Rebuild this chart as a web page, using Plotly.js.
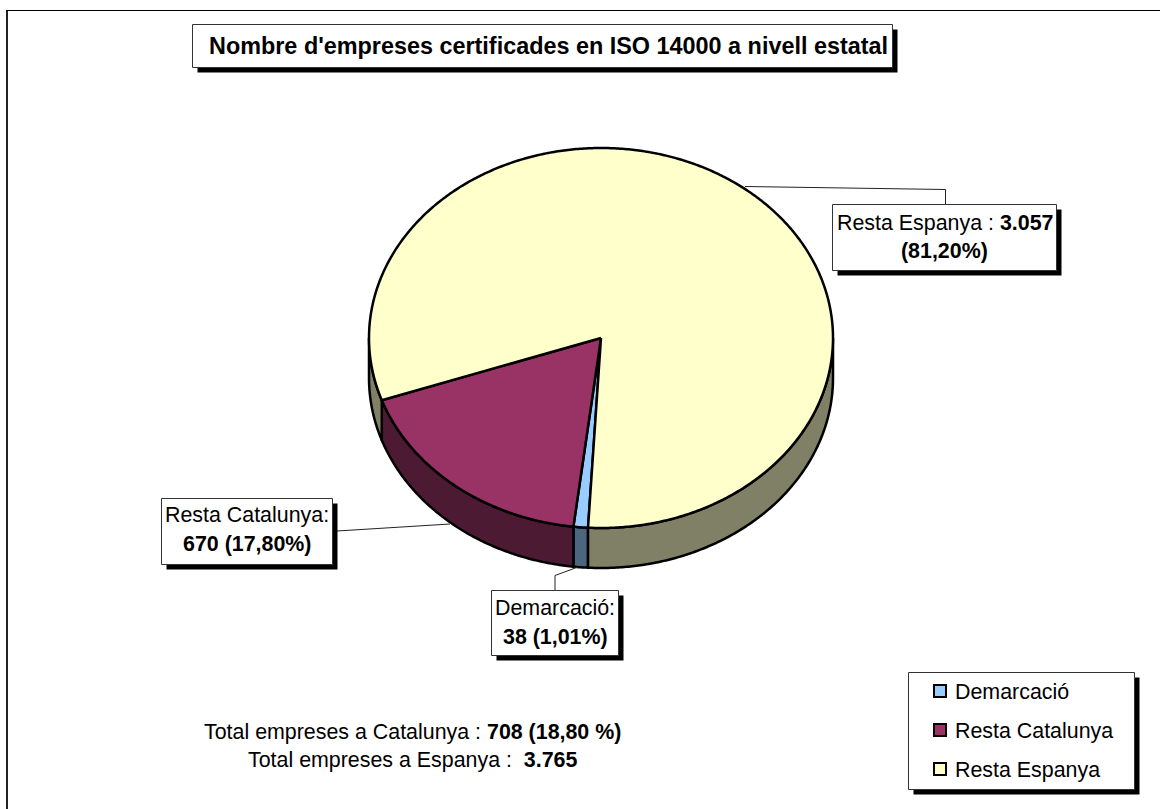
<!DOCTYPE html>
<html>
<head>
<meta charset="utf-8">
<script src="https://cdn.plot.ly/plotly-3.0.1.min.js"></script>
<style>html,body{margin:0;padding:0;background:#fff;overflow:hidden}#chart{width:1160px;height:809px}
/* the swatch-to-label gap in the reference is tighter than Plotly's default */
.legendtext,.legend2text,.legend3text{transform:translateX(-5px)}</style>
</head>
<body>
<div id="chart"></div>
<script>
const categories = ["Demarcació", "Resta Catalunya", "Resta Espanya"];
const values = [38, 670, 3057];
const topColors = ["#99CCFF", "#993366", "#FFFFCC"];
const sideColors = ["#4D6680", "#4D1A33", "#808066"];
const titleText = "Nombre d'empreses certificades en ISO 14000 a nivell estatal";
const noteLines = ["Total empreses a Catalunya : <b>708 (18,80 %)</b>", "Total empreses a Espanya : \u00A0<b>3.765</b>"];
const calloutEspanya = ["Resta Espanya : <b>3.057</b>", "<b>(81,20%)</b>"];
const calloutCatalunya = ["Resta Catalunya:", "<b>670 (17,80%)</b>"];
const calloutDemarcacio = ["Demarcació:", "<b>38 (1,01%)</b>"];

const FONT = "Liberation Sans, Arial, sans-serif";
const FS = 21.4, TITLE_FS = 23.4;
const cx = 601, cy = 338, rx = 232, ry = 190, depth = 40, startDeg = 93.2;
const total = values.reduce((a, b) => a + b, 0);
const pt = (deg, dy) => [cx + rx * Math.cos(deg * Math.PI / 180), cy + ry * Math.sin(deg * Math.PI / 180) + dy];
function arc(a, b, dy) {
  const out = [], n = Math.max(2, Math.ceil(Math.abs(b - a) * 2));
  for (let i = 0; i <= n; i++) out.push(pt(a + (b - a) * i / n, dy));
  return out;
}
const traces = [];
function poly(points, fill) {
  traces.push({
    type: "scatter", mode: "lines", x: points.map(p => p[0]), y: points.map(p => p[1]),
    fill: "toself", fillcolor: fill, line: {color: "#000", width: 2.5, simplify: false},
    hoverinfo: "skip", showlegend: false
  });
}
// slice angular extents, from the values
let cur = startDeg;
const spans = values.map(v => { const s = [cur, cur + v / total * 360]; cur = s[1]; return s; });
// rim (only the front half of the ellipse is visible)
spans.forEach((s, i) => {
  [[0, 180], [360, 540]].forEach(win => {
    const a = Math.max(s[0], win[0]), b = Math.min(s[1], win[1]);
    if (b > a) poly(arc(a, b, 0).concat(arc(b, a, depth)).concat([pt(a, 0)]), sideColors[i]);
  });
});
// top faces
spans.forEach((s, i) => {
  poly([[cx, cy]].concat(arc(s[0], s[1], 0)).concat([[cx, cy]]), topColors[i]);
});
// legend entries
const legendNames = ["legend", "legend2", "legend3"];
categories.forEach((c, i) => {
  traces.push({
    type: "scatter", mode: "markers", x: [null], y: [null], name: c, legend: legendNames[i],
    marker: {symbol: "square", size: 12, color: topColors[i], line: {color: "#000", width: 2}},
    hoverinfo: "skip", showlegend: true
  });
});
function box(x0, y0, x1, y1) {
  return [
    {type: "rect", x0: x0 + 5, y0: y0 + 5, x1: x1 + 5, y1: y1 + 5, fillcolor: "#000", line: {width: 0}},
    {type: "rect", x0, y0, x1, y1, fillcolor: "#fff", line: {color: "#333", width: 1}}
  ];
}
function leader(pts) {
  return {type: "path", path: pts.map((p, i) => (i ? "L" : "M") + p[0] + "," + p[1]).join(" "), line: {color: "#222", width: 1}};
}
const shapes = [
  {type: "line", x0: 7, x1: 7, y0: 10, y1: 809, line: {color: "#222", width: 2}},
  {type: "line", x0: 6, x1: 1160, y0: 10.5, y1: 10.5, line: {color: "#000", width: 1}},
  leader([[745, 186.5], [945.5, 189.5], [945.5, 204]]),
  leader([[337, 531], [450, 524]]),
  leader([[578, 567], [555, 575.5], [555, 590]]),
  ...box(192.5, 24.5, 892.5, 67.5),
  ...box(832.5, 204.5, 1056.5, 270.5),
  ...box(161.5, 498.5, 332.5, 564.5),
  ...box(491.5, 590.5, 618.5, 655.5),
  ...box(908.5, 672.5, 1134.5, 789.5)
];
function txt(text, x, y, size) {
  return {text, x, y, xref: "x", yref: "y", showarrow: false, xanchor: "center", yanchor: "middle",
    font: {family: FONT, size: size || FS, color: "#000"}};
}
const annotations = [
  txt("<b>" + titleText + "</b>", 548.5, 46, TITLE_FS),
  txt(calloutEspanya[0], 944.5, 223), txt(calloutEspanya[1], 944.5, 251),
  txt(calloutCatalunya[0], 247, 515), txt(calloutCatalunya[1], 247, 544),
  txt(calloutDemarcacio[0], 555, 608), txt(calloutDemarcacio[1], 555, 637),
  txt(noteLines[0], 412, 732), txt(noteLines[1], 412, 760)
];
const legendBase = y => ({x: 920 / 1160, y, xref: "paper", yref: "paper", xanchor: "left", yanchor: "middle",
  bgcolor: "rgba(0,0,0,0)", borderwidth: 0, font: {family: FONT, size: FS, color: "#000"}});
const layout = {
  width: 1160, height: 809, margin: {l: 0, r: 0, t: 0, b: 0},
  paper_bgcolor: "#fff", plot_bgcolor: "#fff",
  xaxis: {range: [0, 1160], visible: false, fixedrange: true},
  yaxis: {range: [809, 0], visible: false, fixedrange: true},
  shapes, annotations,
  legend:  legendBase(1 - 691 / 809),
  legend2: legendBase(1 - 730 / 809),
  legend3: legendBase(1 - 769 / 809)
};
Plotly.newPlot("chart", traces, layout, {displayModeBar: false, staticPlot: true});
</script>
</body>
</html>
